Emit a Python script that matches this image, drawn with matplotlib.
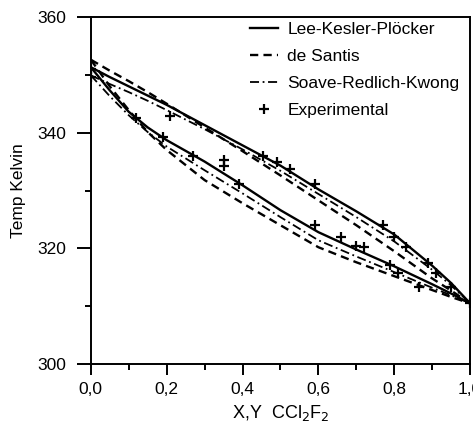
import matplotlib.pyplot as plt
from matplotlib.ticker import MultipleLocator

plt.rcParams['font.family'] = ['Liberation Sans', 'DejaVu Sans']

# composition grid for the model curves
x_grid = [0.0, 0.05, 0.1, 0.15, 0.2, 0.3, 0.4, 0.5, 0.6, 0.7, 0.8, 0.9, 0.95, 1.0]

# Lee-Kesler-Ploecker
lkp_dew = [351.3, 349.6, 348.0, 346.4, 344.8, 341.3, 337.8, 334.3, 330.2, 326.4, 322.4, 317.0, 314.0, 310.5]
lkp_bub = [351.3, 347.3, 343.6, 340.9, 338.7, 335.0, 330.9, 326.6, 322.8, 319.8, 316.9, 313.8, 312.2, 310.5]
# de Santis
ds_dew = [352.6, 350.7, 348.9, 347.0, 345.0, 340.9, 336.8, 332.6, 328.3, 324.0, 319.5, 314.8, 312.7, 310.5]
ds_bub = [352.6, 348.0, 343.9, 340.1, 337.0, 331.8, 327.8, 324.0, 320.2, 317.6, 315.2, 312.8, 311.6, 310.5]
# Soave-Redlich-Kwong
srk_dew = [349.9, 348.4, 347.0, 345.5, 343.9, 340.6, 337.1, 333.4, 329.4, 325.4, 321.2, 316.3, 313.6, 310.5]
srk_bub = [349.9, 346.3, 343.0, 340.1, 337.6, 333.5, 329.5, 325.4, 321.4, 318.6, 315.9, 313.2, 311.9, 310.5]

# experimental points
exp_x = [0.0, 0.0, 0.12, 0.19, 0.21, 0.27, 0.35, 0.35, 0.39, 0.455, 0.49, 0.525, 0.59,
         0.59, 0.66, 0.70, 0.72, 0.77, 0.80, 0.83, 0.79, 0.81, 0.865, 0.89, 0.91, 0.95, 1.0]
exp_t = [351.0, 349.7, 342.6, 339.2, 342.8, 336.0, 335.3, 334.2, 331.2, 335.9, 334.9, 333.7, 331.2,
         324.0, 321.9, 320.5, 320.3, 324.1, 322.0, 320.3, 317.2, 315.8, 313.3, 317.4, 315.8, 313.3, 310.5]

x_ticks = [0, 0.2, 0.4, 0.6, 0.8, 1.0]
x_ticklabels = ['0,0', '0,2', '0,4', '0,6', '0,8', '1,0']
y_ticks = [300, 320, 340, 360]

fig = plt.figure(figsize=(4.73, 4.33), dpi=100)
ax = fig.add_axes([0.192, 0.159, 0.802, 0.802])

lw = 1.7
dash = (0, (3.5, 2.2))
dashdot = (0, (5, 2, 1, 2))
ax.plot(x_grid, lkp_dew, 'k-', lw=lw, label='Lee-Kesler-Plöcker')
ax.plot(x_grid, lkp_bub, 'k-', lw=lw)
ax.plot(x_grid, ds_dew, 'k', ls=dash, lw=lw, label='de Santis')
ax.plot(x_grid, ds_bub, 'k', ls=dash, lw=lw)
ax.plot(x_grid, srk_dew, 'k', ls=dashdot, lw=1.3, label='Soave-Redlich-Kwong')
ax.plot(x_grid, srk_bub, 'k', ls=dashdot, lw=1.3)
ax.plot(exp_x, exp_t, 'k+', ms=7, mew=1.6, ls='none', label='Experimental')

ax.set_xlim(0, 1.0)
ax.set_ylim(300, 360)
ax.set_xticks(x_ticks)
ax.set_xticklabels(x_ticklabels)
ax.set_yticks(y_ticks)
ax.xaxis.set_minor_locator(MultipleLocator(0.1))
ax.yaxis.set_minor_locator(MultipleLocator(10))
ax.tick_params(axis='y', which='major', direction='out', length=10, width=1.4, labelsize=12.5, pad=8)
ax.tick_params(axis='x', which='major', direction='out', length=8, width=1.4, labelsize=12.5, pad=5)
ax.tick_params(which='minor', direction='out', length=4, width=1.4)
for s in ax.spines.values():
    s.set_linewidth(1.4)

ax.set_xlabel('X,Y  CCl$_2$F$_2$', fontsize=13, labelpad=4)
ax.set_ylabel('Temp Kelvin', fontsize=12.5, labelpad=8)

ax.legend(loc='upper right', bbox_to_anchor=(0.985, 1.0), frameon=False, fontsize=12.5,
          handlelength=1.6, handletextpad=0.55, labelspacing=0.68, borderaxespad=0.0,
          borderpad=0.3)

fig.savefig('out.png', dpi=100)
